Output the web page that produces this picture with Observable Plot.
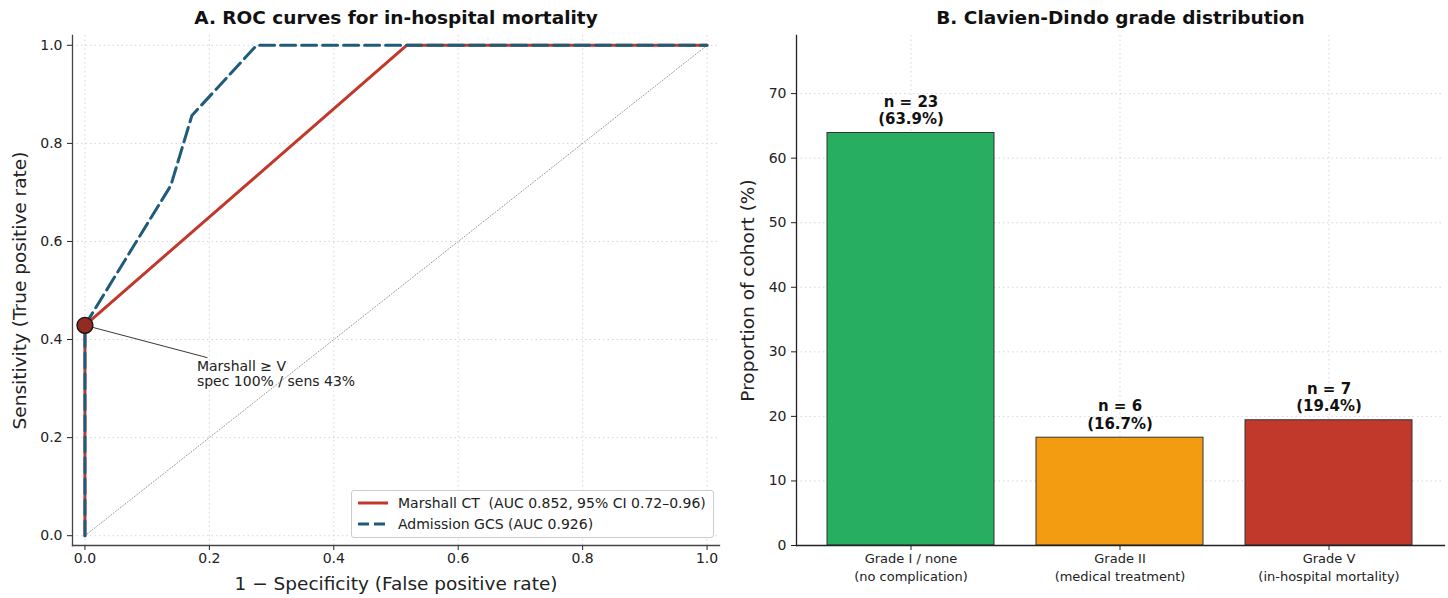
<!DOCTYPE html>
<html>
<head>
<meta charset="utf-8">
<script src="https://cdn.jsdelivr.net/npm/d3@7"></script>
<script src="https://cdn.jsdelivr.net/npm/@observablehq/plot@0.6"></script>
<style>
  html, body { margin: 0; padding: 0; background: #fff; }
  #wrap { position: relative; width: 1448px; height: 598px; display: flex; font-family: "DejaVu Sans", sans-serif; }
  #wrap svg { display: block; }
  #legend { position: absolute; left: 351px; top: 490px; width: 361px; height: 46px; border: 1px solid #ccc; border-radius: 3px; background: rgba(255,255,255,0.85); font-size: 14px; color: #222; }
  .row { position: absolute; left: 6px; display: flex; align-items: center; height: 18px; }
  .row span { margin-left: 10px; white-space: pre; }
</style>
</head>
<body>
<div id="wrap">
  <div id="left"></div>
  <div id="right"></div>
  <div id="legend">
    <div class="row" style="top:3px"><svg width="30" height="6"><line x1="0" y1="3" x2="30" y2="3" stroke="#c0392b" stroke-width="3"/></svg><span>Marshall CT  (AUC 0.852, 95% CI 0.72–0.96)</span></div>
    <div class="row" style="top:24px"><svg width="30" height="6"><line x1="0" y1="3" x2="30" y2="3" stroke="#1f5b7a" stroke-width="3" stroke-dasharray="11,5"/></svg><span>Admission GCS (AUC 0.926)</span></div>
  </div>
</div>
<script>
// ---- Panel A data ----
const marshallFPR = [0, 0, 0.517, 1];
const marshallTPR = [0, 0.429, 1, 1];
const gcsFPR = [0, 0, 0.138, 0.172, 0.207, 0.276, 1];
const gcsTPR = [0, 0.429, 0.714, 0.857, 0.905, 1, 1];
const diagX = [0, 1];
const diagY = [0, 1];
const cutFPR = [0];
const cutTPR = [0.429];
const noteX = [0.18];
const noteY = [0.357];
const noteText = ["Marshall ≥ V\nspec 100% / sens 43%"];
const rocTicks = [0, 0.2, 0.4, 0.6, 0.8, 1.0];

// ---- Panel B data ----
const grades = ["Grade I / none\n(no complication)", "Grade II\n(medical treatment)", "Grade V\n(in-hospital mortality)"];
const counts = [23, 6, 7];
const pcts = [63.9, 16.7, 19.4];
const barColors = ["#27ae60", "#f39c12", "#c0392b"];
const pctTicks = [0, 10, 20, 30, 40, 50, 60, 70];

const font = "DejaVu Sans, sans-serif";
const gridStyle = {stroke: "#ccc", strokeOpacity: 0.8, strokeDasharray: "1.5,3", strokeWidth: 1};

const marshall = marshallFPR.map((x, i) => ({x, y: marshallTPR[i]}));
const gcs = gcsFPR.map((x, i) => ({x, y: gcsTPR[i]}));
const diag = diagX.map((x, i) => ({x, y: diagY[i]}));
const cut = cutFPR.map((x, i) => ({x, y: cutTPR[i]}));
const note = noteX.map((x, i) => ({x, y: noteY[i], t: noteText[i]}));
const link = cut.map((c, i) => ({x1: c.x, y1: c.y, x2: noteX[i] + 0.017, y2: noteY[i] + 0.006}));

const left = Plot.plot({
  width: 724, height: 598,
  marginLeft: 72, marginRight: 5, marginTop: 35, marginBottom: 53,
  style: {fontFamily: font, fontSize: "14px", color: "#222", background: "white"},
  x: {domain: [-0.02, 1.02], ticks: rocTicks, tickFormat: d3.format(".1f"), label: null},
  y: {domain: [-0.02, 1.02], ticks: rocTicks, tickFormat: d3.format(".1f"), label: null},
  marks: [
    Plot.gridX(rocTicks, gridStyle),
    Plot.gridY(rocTicks, gridStyle),
    Plot.axisX(rocTicks, {tickSize: 5, tickPadding: 3, fontSize: 14, tickFormat: d3.format(".1f"), label: null}),
    Plot.axisY(rocTicks, {tickSize: 5, tickPadding: 5, fontSize: 14, tickFormat: d3.format(".1f"), label: null}),
    Plot.frame({anchor: "left", stroke: "#444", strokeWidth: 1.3}),
    Plot.frame({anchor: "bottom", stroke: "#444", strokeWidth: 1.3}),
    Plot.line(diag, {x: "x", y: "y", stroke: "#999", strokeWidth: 1, strokeDasharray: "1,2"}),
    Plot.line(marshall, {x: "x", y: "y", stroke: "#c0392b", strokeWidth: 3}),
    Plot.line(gcs, {x: "x", y: "y", stroke: "#1f5b7a", strokeWidth: 3, strokeDasharray: "15,6"}),
    Plot.link(link, {x1: "x1", y1: "y1", x2: "x2", y2: "y2", stroke: "#222", strokeWidth: 0.9}),
    Plot.dot(cut, {x: "x", y: "y", r: 8, fill: "#922b21", stroke: "#111", strokeWidth: 1.3}),
    Plot.text(note, {x: "x", y: "y", text: "t", textAnchor: "start", lineAnchor: "top", fontSize: 14, fill: "#222", lineHeight: 1.08}),
    Plot.text(["A. ROC curves for in-hospital mortality"], {frameAnchor: "top", lineAnchor: "middle", textAnchor: "middle", dy: -17, fontSize: 18.5, fontWeight: "bold", fill: "#111"}),
    Plot.text(["1 − Specificity (False positive rate)"], {frameAnchor: "bottom", lineAnchor: "middle", textAnchor: "middle", dy: 39, fontSize: 18.5, fill: "#222"}),
    Plot.text(["Sensitivity (True positive rate)"], {frameAnchor: "left", lineAnchor: "middle", textAnchor: "middle", dx: -52, rotate: -90, fontSize: 18.5, fill: "#222"})
  ]
});
document.getElementById("left").appendChild(left);

const bars = grades.map((g, i) => ({g, n: counts[i], p: pcts[i], c: barColors[i], label: `n = ${counts[i]}\n(${pcts[i].toFixed(1)}%)`}));

const right = Plot.plot({
  width: 724, height: 598,
  marginLeft: 72, marginRight: 4, marginTop: 35, marginBottom: 53,
  style: {fontFamily: font, fontSize: "14px", color: "#222", background: "white"},
  x: {type: "band", domain: grades, paddingInner: 0.2, paddingOuter: 0.143, label: null},
  y: {domain: [0, 79], label: null},
  marks: [
    Plot.gridX(grades, {...gridStyle}),
    Plot.gridY(pctTicks, gridStyle),
    Plot.barY(bars, {x: "g", y: "p", fill: "c", stroke: "#333", strokeWidth: 1}),
    Plot.text(bars, {x: "g", y: "p", text: "label", lineAnchor: "bottom", dy: -9, fontSize: 15, fontWeight: "bold", fill: "#111", lineHeight: 1.15}),
    Plot.axisX(grades, {tickSize: 5, tickPadding: 0, fontSize: 13, label: null, lineHeight: 1.35}),
    Plot.axisY(pctTicks, {tickSize: 5, tickPadding: 5, fontSize: 14, label: null}),
    Plot.frame({anchor: "left", stroke: "#222", strokeWidth: 1.3}),
    Plot.frame({anchor: "bottom", stroke: "#222", strokeWidth: 1.3}),
    Plot.text(["B. Clavien-Dindo grade distribution"], {frameAnchor: "top", lineAnchor: "middle", textAnchor: "middle", dy: -17, fontSize: 18.5, fontWeight: "bold", fill: "#111"}),
    Plot.text(["Proportion of cohort (%)"], {frameAnchor: "left", lineAnchor: "middle", textAnchor: "middle", dx: -48, rotate: -90, fontSize: 18.5, fill: "#222"})
  ]
});
document.getElementById("right").appendChild(right);
</script>
</body>
</html>
